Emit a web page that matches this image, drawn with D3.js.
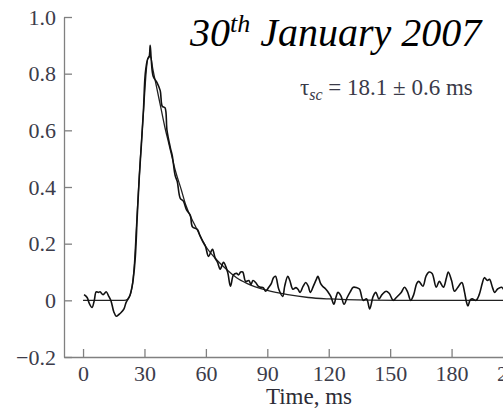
<!DOCTYPE html>
<html>
<head>
<meta charset="utf-8">
<script src="https://cdn.jsdelivr.net/npm/d3@7"></script>
<style>
  html, body { margin: 0; padding: 0; background: #fff; }
  svg { display: block; }
  .axis path, .axis line { stroke: #808080; stroke-width: 1.3; }
</style>
</head>
<body>
<div id="chart"></div>
<script>

// Measured signal (time in ms, normalised amplitude).
var signalT = [
  0.5, 2, 3, 4.4, 5.5, 6.4, 7.5, 8.3, 9.8, 11.3, 12.5, 13.7, 15, 16.2, 17.5,
  18.6, 20, 21, 22, 23, 24, 24.5, 25.5, 26.5, 27.5, 28.5, 29.5, 30.4, 31.5,
  32.3, 32.8, 33.3, 34.3, 36, 37.7, 38.7, 40, 41, 42.6, 43.6, 45, 46, 47.5,
  49, 50.5, 52.4, 53.4, 55.9, 57, 58.3, 59.8, 61.3, 63.2, 64.5, 65.7, 67,
  68.6, 70.6, 72, 73.5, 75, 76, 77, 78, 79.4, 81, 82, 83, 84.3, 85.5, 86.8,
  88, 89.2, 90.7, 92, 93, 94, 95.6, 97.5, 98.5, 100, 101, 102.5, 104, 105,
  106, 107.5, 108.8, 110, 111, 112.5, 114, 114.7, 116, 117, 118.5, 119.6,
  121, 122.5, 123.5, 124.5, 126, 127.5, 129, 130.5, 132, 133.5, 135, 136.8,
  138.5, 140, 141.7, 143, 144.5, 146, 148, 149.5, 151.5, 153, 155.4, 157,
  158.5, 160, 161.5, 163, 164, 166, 167.5, 169, 170.5, 172.5, 174, 176,
  177.5, 178.4, 180, 181.4, 183, 185, 186.3, 187.3, 188, 189, 190, 192,
  193.5, 195, 196, 197.5, 198.5, 200, 201, 202.5, 204.4, 206
];
var signalV = [
  0.02, 0.01, -0.01, -0.025, 0.0, 0.03, 0.028, 0.03, 0.02, 0.03, 0.015,
  -0.003, -0.04, -0.056, -0.05, -0.043, -0.03, -0.008, 0.005, 0.02, 0.05,
  0.074, 0.15, 0.3, 0.44, 0.55, 0.67, 0.8, 0.85, 0.86, 0.9, 0.85, 0.79,
  0.77, 0.74, 0.685, 0.68, 0.6, 0.54, 0.51, 0.44, 0.42, 0.36, 0.35, 0.32,
  0.3, 0.26, 0.25, 0.23, 0.21, 0.19, 0.155, 0.18, 0.15, 0.134, 0.11, 0.134,
  0.1, 0.05, 0.09, 0.095, 0.09, 0.1, 0.1, 0.067, 0.07, 0.056, 0.07, 0.063,
  0.05, 0.046, 0.045, 0.032, 0.046, 0.06, 0.08, 0.085, 0.039, 0.014, 0.05,
  0.085, 0.07, 0.039, 0.045, 0.039, 0.028, 0.05, 0.063, 0.05, 0.028, 0.05,
  0.075, 0.085, 0.06, 0.05, 0.04, 0.03, 0.014, -0.014, 0.01, 0.028, 0.015,
  -0.014, 0.01, 0.03, 0.046, 0.045, 0.04, 0.0, 0.005, -0.03, 0.014, 0.028,
  0.005, 0.02, 0.032, 0.025, 0.0, 0.01, 0.028, 0.046, 0.03, 0.0, 0.02, 0.06,
  0.067, 0.05, 0.085, 0.1, 0.095, 0.046, 0.067, 0.046, 0.08, 0.1, 0.07,
  0.032, 0.045, 0.063, 0.03, -0.007, -0.02, 0.0, 0.005, 0.0, 0.02, 0.06,
  0.08, 0.07, 0.074, 0.045, 0.028, 0.04, 0.046, 0.03
];

// Fitted curve.
var fitT = [
  0, 20, 22, 24, 25, 26, 27, 28, 29, 30, 31, 32, 33, 34, 36, 38, 40, 42, 45,
  48, 50, 55, 60, 65, 70, 75, 80, 90, 100, 110, 120, 140, 160, 206
];
var fitV = [
  0, 0, 0.005, 0.05, 0.12, 0.25, 0.38, 0.5, 0.61, 0.72, 0.82, 0.86, 0.86,
  0.82, 0.75, 0.68, 0.61, 0.55, 0.46, 0.39, 0.34, 0.26, 0.19, 0.145, 0.11,
  0.08, 0.06, 0.035, 0.02, 0.01, 0.005, 0.001, 0, 0
];

var xTicks = [0, 30, 60, 90, 120, 150, 180, 210];
var yTicks = [-0.2, 0, 0.2, 0.4, 0.6, 0.8, 1.0];
var yTickLabels = ['\u22120.2', '0', '0.2', '0.4', '0.6', '0.8', '1.0'];

var SERIF = '"Liberation Serif", "Times New Roman", Times, serif';
var width = 503, height = 409;

var svg = d3.select('#chart').append('svg')
  .attr('width', width)
  .attr('height', height);

// Scales: the frame starts a little left of t = 0.
var x = d3.scaleLinear().domain([-9.3, 210]).range([64, 513]);
var y = d3.scaleLinear().domain([-0.2, 1.0]).range([357, 17]);

// Axes, ticks pointing inward.
var xAxis = svg.append('g')
  .attr('class', 'axis')
  .attr('transform', 'translate(0,' + y(-0.2) + ')')
  .call(d3.axisBottom(x)
    .tickValues(xTicks)
    .tickSizeInner(-8)
    .tickSizeOuter(0)
    .tickPadding(8)
    .tickFormat(d3.format('d')));

var yAxis = svg.append('g')
  .attr('class', 'axis')
  .attr('transform', 'translate(' + x(-9.3) + ',0)')
  .call(d3.axisLeft(y)
    .tickValues(yTicks)
    .tickSizeInner(-8)
    .tickSizeOuter(0)
    .tickPadding(8)
    .tickFormat(function(d, i) { return yTickLabels[i]; }));

[xAxis, yAxis].forEach(function(g) {
  g.selectAll('text')
    .style('font-family', SERIF)
    .style('font-size', '22px')
    .style('fill', '#3c3c4a');
});

// Lines.
var line = d3.line()
  .x(function(d) { return x(d[0]); })
  .y(function(d) { return y(d[1]); });

svg.append('path')
  .datum(d3.zip(fitT, fitV))
  .attr('fill', 'none')
  .attr('stroke', '#222')
  .attr('stroke-width', 1.3)
  .attr('d', line.curve(d3.curveMonotoneX));

svg.append('path')
  .datum(d3.zip(signalT, signalV))
  .attr('fill', 'none')
  .attr('stroke', '#111')
  .attr('stroke-width', 1.6)
  .attr('stroke-linejoin', 'round')
  .attr('d', line.curve(d3.curveCatmullRom.alpha(0.5)));

// Axis title.
svg.append('text')
  .attr('x', 309)
  .attr('y', 404)
  .attr('text-anchor', 'middle')
  .style('font-family', SERIF)
  .style('font-size', '23px')
  .style('fill', '#2c2c36')
  .text('Time, ms');

// Date title.
var title = svg.append('text')
  .attr('x', 190)
  .attr('y', 46)
  .style('font-family', SERIF)
  .style('font-style', 'italic')
  .style('font-size', '40px')
  .style('fill', '#000');
title.append('tspan').text('30');
title.append('tspan').attr('dy', -14).style('font-size', '26px').text('th');
title.append('tspan').attr('dy', 14).text(' January 2007');

// Decay time annotation.
var tau = svg.append('text')
  .attr('x', 300)
  .attr('y', 95)
  .style('font-family', SERIF)
  .style('font-size', '23px')
  .style('fill', '#3a3a48');
tau.append('tspan').text('\u03c4');
tau.append('tspan').attr('dy', 5).style('font-size', '16px')
  .style('font-style', 'italic').text('sc');
tau.append('tspan').attr('dy', -5).text(' = 18.1 \u00b1 0.6 ms');

</script>
</body>
</html>
